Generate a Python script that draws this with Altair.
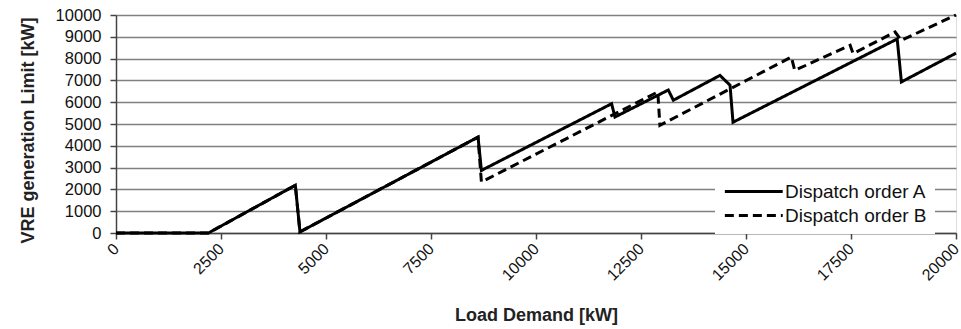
import altair as alt
import pandas as pd

# Load demand breakpoints [kW] and VRE generation limit [kW] for each dispatch order
load_a = [0, 2200, 4270, 4380, 8620, 8700, 11800, 11880, 13150, 13270, 14380, 14620, 14690, 18600, 18700, 20000]
vre_a = [0, 0, 2190, 50, 4400, 2870, 5930, 5320, 6560, 6090, 7230, 6780, 5080, 8900, 6930, 8250]

load_b = [0, 2200, 4270, 4380, 8620, 8700, 12900, 12950, 16080, 16160, 17480, 17550, 18550, 18700, 20000]
vre_b = [0, 0, 2190, 50, 4400, 2340, 6470, 4940, 8070, 7460, 8610, 8230, 9220, 8840, 10000]

series_names = ["Dispatch order A", "Dispatch order B"]
x_ticks = [0, 2500, 5000, 7500, 10000, 12500, 15000, 17500, 20000]
y_ticks = [0, 1000, 2000, 3000, 4000, 5000, 6000, 7000, 8000, 9000, 10000]

rows = []
for name, xs, ys in ((series_names[0], load_a, vre_a), (series_names[1], load_b, vre_b)):
    for i, (x, y) in enumerate(zip(xs, ys)):
        rows.append({"series": name, "load": x, "vre": y, "step": i})
df = pd.DataFrame(rows)

FONT = "Liberation Sans"

# Long horizontal legend swatch: a custom path reaching well to the right of
# its unit box, so the row height stays small while the line stays long.
legend_def = dict(
    title=None,
    orient="none",
    legendX=599,
    legendY=157,
    padding=8,
    fillColor="white",
    symbolType="M-1,0H5",
    symbolSize=372,
    symbolStrokeWidth=3,
    symbolStrokeColor="black",
    symbolFillColor="transparent",
    labelFont=FONT,
    labelFontSize=19,
    labelColor="#111",
    labelOffset=39,
    rowPadding=2,
)

chart = (
    alt.Chart(df)
    .mark_line(strokeWidth=3, strokeJoin="miter", strokeCap="butt")
    .encode(
        x=alt.X(
            "load:Q",
            scale=alt.Scale(domain=[0, 20000], nice=False, zero=False),
            axis=alt.Axis(
                values=x_ticks,
                format="d",
                title="Load Demand [kW]",
                grid=False,
                labelAngle=-45,
                labelAlign="right",
                labelBaseline="middle",
                labelFont=FONT,
                labelFontSize=16,
                labelColor="#111",
                labelPadding=7,
                tickSize=6,
                tickWidth=1.5,
                tickColor="#444",
                domainColor="#444",
                domainWidth=1.5,
                titleFont=FONT,
                titleFontSize=18,
                titleFontWeight="bold",
                titleColor="#222",
                titleX=420,
                titleY=82,
                titleAlign="center",
                titleBaseline="middle",
            ),
        ),
        y=alt.Y(
            "vre:Q",
            scale=alt.Scale(domain=[0, 10000], nice=False),
            axis=alt.Axis(
                values=y_ticks,
                format="d",
                title="VRE generation Limit [kW]",
                grid=True,
                gridColor="#808080",
                gridWidth=1.6,
                labelFont=FONT,
                labelFontSize=16.5,
                labelColor="#111",
                labelPadding=9,
                tickSize=6,
                tickWidth=1.5,
                tickColor="#444",
                domainColor="#444",
                domainWidth=1.5,
                titleFont=FONT,
                titleFontSize=18,
                titleFontWeight="bold",
                titleColor="#222",
                titleAngle=270,
                titleX=-88,
                titleY=115,
                titleAlign="center",
                titleBaseline="middle",
            ),
        ),
        color=alt.Color(
            "series:N",
            scale=alt.Scale(domain=series_names, range=["black", "black"]),
            legend=alt.Legend(**legend_def),
        ),
        strokeDash=alt.StrokeDash(
            "series:N",
            scale=alt.Scale(domain=series_names, range=[[1, 0], [9, 5]]),
            legend=alt.Legend(**legend_def),
        ),
        order="step:Q",
    )
    .properties(
        width=840,
        height=218,
        autosize=alt.AutoSizeParams(type="none"),
        padding={"left": 116, "top": 15, "right": 5, "bottom": 96},
    )
    .configure_view(stroke="#999", strokeWidth=1.5)
    .configure(background="white")
)

chart.save("out.html", embed_options={"renderer": "svg", "actions": False})
